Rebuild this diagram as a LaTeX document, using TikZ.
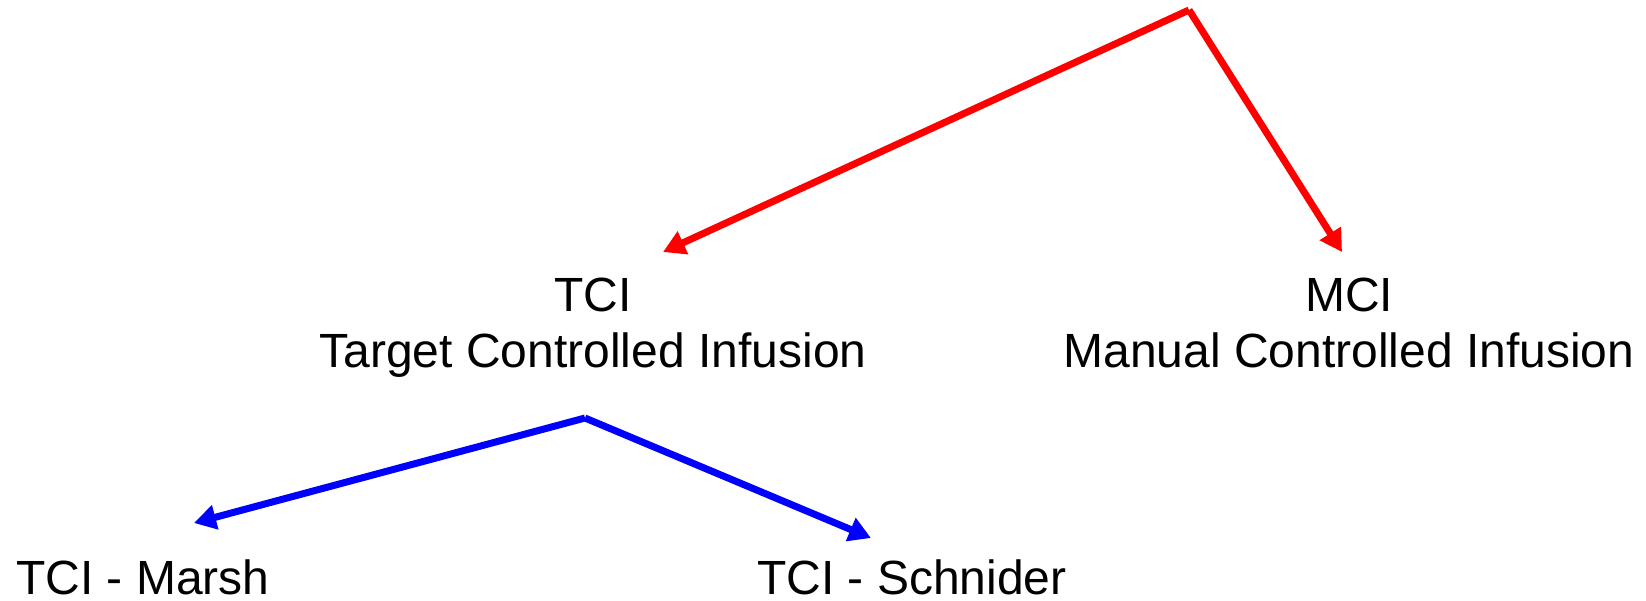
\documentclass[tikz,border=0pt]{standalone}
\usepackage{fontspec}
\setmainfont{Liberation Sans}
\usetikzlibrary{arrows.meta}
\begin{document}
\begin{tikzpicture}[x=1pt,y=-1pt,
  lbl/.style={font=\fontsize{48}{56}\selectfont, align=center, inner sep=0pt, anchor=base},
  redarrow/.style={draw=red, line width=7pt, -{Triangle[length=22pt,width=24pt]}},
  bluearrow/.style={draw=blue, line width=7pt, -{Triangle[length=22pt,width=24pt]}}]
\useasboundingbox (0,0) rectangle (1646,600);
\node[lbl] (tci) at (593,367) {TCI\\Target Controlled Infusion};
\node[lbl] (mci) at (1349,367) {MCI\\Manual Controlled Infusion};
\node[lbl, anchor=base west, text depth=0pt] (marsh) at (16,594) {TCI - Marsh};
\node[lbl, anchor=base west, text depth=0pt] (schnider) at (757,594) {TCI - Schnider};
\coordinate (redtop) at (1189,10);
\coordinate (tcitip) at (663,252);
\coordinate (mcitip) at (1342,252);
\coordinate (bluetop) at (585,418);
\coordinate (marshtip) at (194,523);
\coordinate (schnidertip) at (871,538);
\draw[redarrow] (redtop) -- (tcitip);
\draw[redarrow] (redtop) -- (mcitip);
\draw[bluearrow] (bluetop) -- (marshtip);
\draw[bluearrow] (bluetop) -- (schnidertip);
\end{tikzpicture}
\end{document}
